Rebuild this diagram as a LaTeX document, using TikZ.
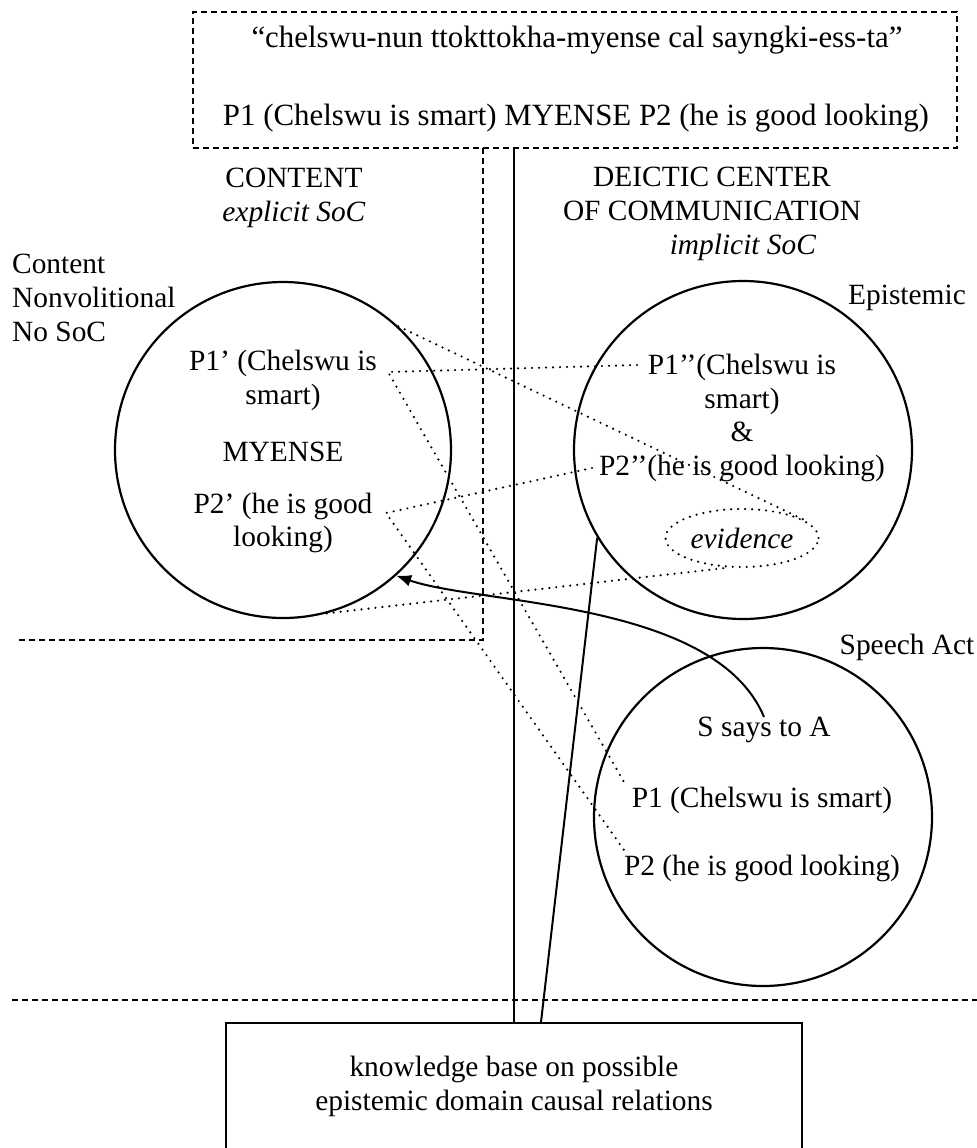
\documentclass[tikz,border=0pt]{standalone}
\usepackage{fontspec}
\setmainfont{Liberation Serif}
\usetikzlibrary{arrows.meta,shapes.geometric,calc}
\begin{document}
\begin{tikzpicture}[x=1bp,y=-1bp,
  every node/.style={font=\fontsize{29.5}{34}\selectfont, inner sep=0pt},
  lbl/.style={align=center},
  toptxt/.style={font=\fontsize{31}{36}\selectfont},
  itl/.style={font=\fontsize{29.5}{34}\selectfont\itshape},
  ring/.style={draw, circle, line width=2.2bp},
  dashline/.style={line width=1.8bp, dash pattern=on 6bp off 4bp},
  dotline/.style={line width=2.4bp, dash pattern=on 0bp off 7bp, line cap=round},
  solidline/.style={line width=2bp}]
\useasboundingbox (0,0) rectangle (977,1148);
\clip (0,0) rectangle (977,1148);

% top dashed box
\node[draw, dashline, minimum width=764bp, minimum height=136bp] (top) at (575,80) {};
\node[toptxt] (quote) at (577,40) {“chelswu-nun ttokttokha-myense cal sayngki-ess-ta”};
\node[toptxt] (gloss) at (576,118) {P1 (Chelswu is smart) MYENSE P2 (he is good looking)};

% content region
\coordinate (cv) at (483,148);
\coordinate (cb) at (483,640);
\coordinate (cl) at (15,640);
\draw[dashline] (cv) -- (cb) -- (cl);

% bottom dashed line
\coordinate (dl) at (12,1000);
\coordinate (dr) at (977,1000);
\draw[dashline] (dl) -- (dr);

% headers
\node[lbl] (cont) at (294,198) {CONTENT\\\textit{explicit SoC}};
\node[lbl] (dcc) at (712,214) {DEICTIC CENTER\\OF COMMUNICATION\\\hspace*{62bp}\textit{implicit SoC}};
\node[align=left, anchor=west] (cnl) at (12,298) {Content\\Nonvolitional\\No SoC};
\node (epl) at (907,298) {Epistemic};
\node (spl) at (907,647) {Speech Act};

% circles
\node[ring, minimum size=336bp] (lc) at (283,450) {};
\node[ring, minimum size=338bp] (epi) at (743,450) {};
\node[ring, minimum size=338bp] (sc) at (763,817) {};

% left circle text
\node[lbl] (p1l) at (283,380) {P1’ (Chelswu is\\smart)};
\node (my) at (283,452) {MYENSE};
\node[lbl] (p2l) at (283,523) {P2’ (he is good\\looking)};

% epistemic text
\node[lbl] (epit) at (742,418) {P1’’(Chelswu is\\smart)\\\&\\P2’’(he is good looking)};
\node[ellipse, draw, dotline, minimum width=153bp, minimum height=58bp, itl] (ev) at (742,538) {evidence};

% speech act text
\node (sa) at (764,730) {S says to A};
\node (sp1) at (762,800) {P1 (Chelswu is smart)};
\node (sp2) at (762,868) {P2 (he is good looking)};

% knowledge base box
\node[draw, solidline, minimum width=576bp, minimum height=150bp, anchor=north] (kb) at (514,1022) {};
\node[lbl] (kbt) at (514,1086) {knowledge base on possible\\epistemic domain causal relations};

% solid lines
\draw[solidline] (top.south -| kb.north) -- (kb.north);
\draw[solidline] (epi.211) -- ($(kb.north)+(27,0)$);

% dotted connectors
\coordinate (p1a) at (388,372);
\coordinate (p1b) at (637,365);
\coordinate (p1c) at (624,782);
\coordinate (p2a) at (386,513);
\coordinate (p2b) at (592,468);
\coordinate (p2c) at (624,850);
\draw[dotline] (p1b) -- (p1a) -- (p1c);
\draw[dotline] (p2b) -- (p2a) -- (p2c);
\draw[dotline] (lc.47) -- (ev.17);
\draw[dotline] (lc.285) -- (ev.244);

% curved arrow
\draw[solidline, -{Latex[length=15bp,width=12bp]}] (sa.north) .. controls (715,600) and (480,605) .. (lc.312);
\end{tikzpicture}
\end{document}
